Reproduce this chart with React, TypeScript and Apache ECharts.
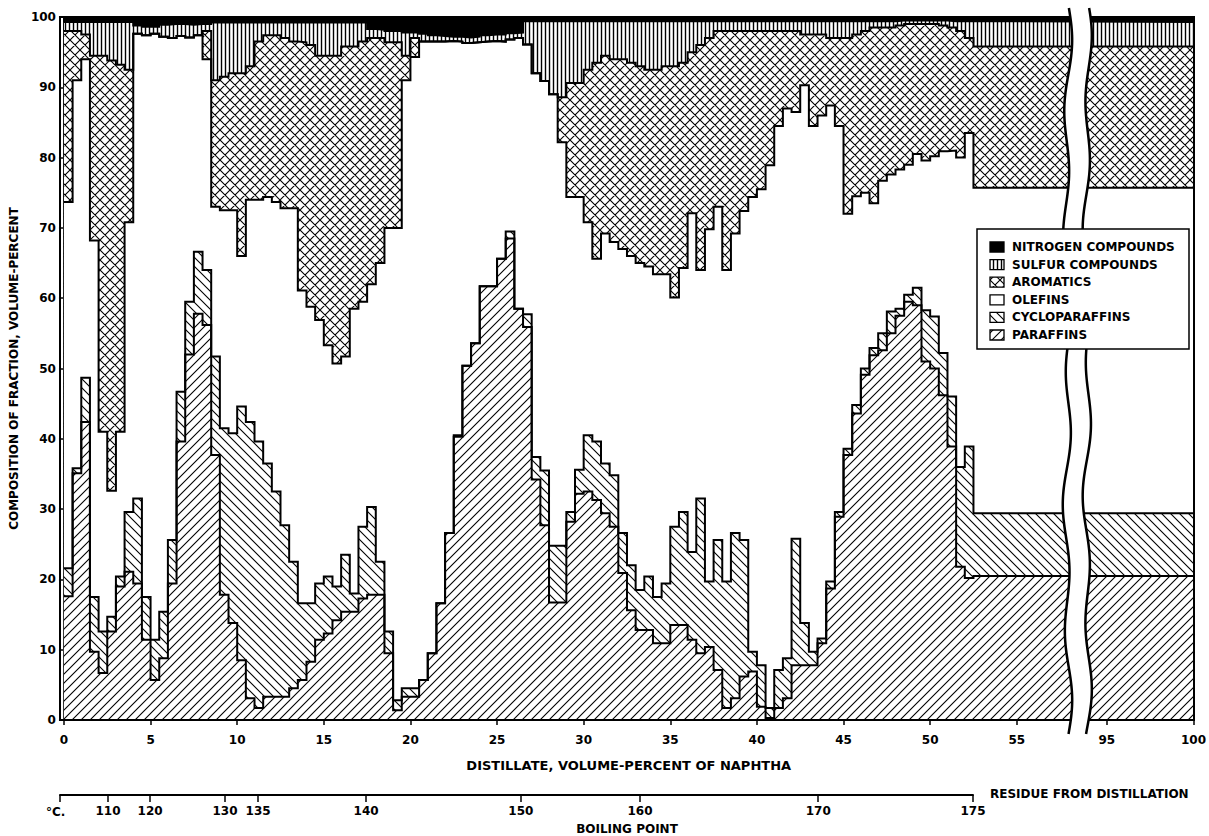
import React, { useEffect, useRef } from 'react';
import * as echarts from 'echarts';

// ---------- data ----------
// each distillation fraction is 0.5 volume-percent of naphtha wide
const FRACTION_WIDTH = 0.5;
const fractionStart: number[] = Array.from({ length: 105 }, (_, i) => i * FRACTION_WIDTH);
const DISTILLATION_END = 52.5;
const BREAK_OFFSET = 34.8; // 95 % distillate is drawn at 60.2 on the plotting scale
const RESIDUE_END = 100 - BREAK_OFFSET;
const BREAK_CENTER = 58.5;

// cumulative upper boundaries (volume-percent) of each component, per fraction
const paraffinsTop = [
  17.6, 35.1, 42.4, 9.7, 6.7, 12.6, 19.0, 21.1, 19.4, 11.4,
  5.7, 8.8, 19.4, 39.6, 52.0, 57.8, 56.2, 37.7, 17.8, 13.8,
  8.5, 3.1, 1.7, 3.3, 3.3, 3.3, 4.5, 5.7, 8.3, 11.4,
  12.3, 14.2, 15.4, 15.4, 17.3, 17.8, 17.8, 9.5, 1.4, 3.3,
  3.3, 5.7, 9.5, 16.6, 26.6, 40.3, 50.4, 53.6, 61.7, 61.7,
  65.6, 68.5, 58.5, 55.9, 34.2, 27.7, 16.7, 16.7, 28.2, 32.2,
  32.5, 31.3, 29.4, 27.5, 20.9, 15.6, 12.8, 12.8, 10.9, 10.9,
  13.5, 13.5, 11.4, 9.5, 10.4, 7.1, 1.7, 3.1, 6.2, 6.9,
  1.9, 0.3, 1.7, 3.1, 7.8, 7.8, 7.8, 10.9, 18.7, 28.9,
  37.7, 43.6, 49.1, 51.9, 52.6, 55.0, 57.5, 59.5, 59.0, 51.0,
  50.0, 46.2, 38.9, 21.8, 20.2,
];
const cycloparaffinsTop = [
  21.6, 35.8, 48.7, 17.5, 12.6, 14.7, 20.4, 29.6, 31.5, 17.5,
  11.4, 15.4, 25.6, 46.7, 59.5, 66.6, 64.0, 51.7, 41.5, 40.8,
  44.6, 42.4, 39.6, 36.5, 32.5, 27.7, 22.5, 16.6, 16.6, 19.4,
  20.4, 19.0, 23.5, 18.0, 27.5, 30.3, 22.5, 12.6, 2.8, 4.5,
  4.5, 5.7, 9.5, 16.6, 26.6, 40.5, 50.4, 53.6, 61.7, 61.7,
  65.6, 69.5, 58.5, 57.7, 37.4, 35.5, 24.8, 24.8, 29.6, 35.6,
  40.5, 39.6, 36.5, 34.8, 26.6, 22.0, 18.5, 20.4, 17.5, 19.4,
  27.5, 29.6, 23.9, 31.5, 19.7, 25.6, 19.7, 26.6, 25.6, 9.7,
  7.8, 1.7, 7.1, 8.8, 25.8, 13.8, 9.7, 11.6, 19.7, 29.6,
  38.6, 44.8, 50.0, 52.9, 55.0, 58.1, 58.5, 60.5, 61.5, 58.3,
  57.4, 52.2, 46.0, 36.0, 38.9,
];
const olefinsTop = [
  73.7, 91.0, 94.0, 68.2, 41.0, 32.6, 41.0, 70.8, 97.6, 97.4,
  97.6, 97.2, 97.0, 97.3, 97.1, 97.4, 94.0, 73.0, 72.5, 72.5,
  66.0, 74.0, 74.0, 74.4, 73.7, 72.8, 72.8, 61.1, 58.8, 56.9,
  53.3, 50.7, 51.7, 58.5, 59.5, 62.0, 65.0, 70.0, 70.0, 91.0,
  94.3, 96.5, 96.5, 96.5, 96.6, 96.5, 96.3, 96.4, 96.5, 96.6,
  96.5, 96.8, 97.0, 96.1, 92.0, 90.9, 89.0, 82.2, 74.4, 74.4,
  70.8, 65.6, 69.2, 68.0, 67.0, 66.0, 65.0, 64.5, 63.4, 63.4,
  60.1, 64.3, 72.1, 64.0, 69.8, 73.0, 64.0, 69.2, 72.4, 74.4,
  75.5, 78.9, 84.5, 87.0, 86.5, 90.3, 84.5, 86.0, 87.4, 84.5,
  72.0, 74.5, 75.0, 73.5, 76.7, 77.6, 78.3, 79.0, 80.5, 79.6,
  80.2, 80.9, 81.0, 80.0, 83.5,
];
const aromaticsTop = [
  98.0, 98.0, 97.5, 94.5, 94.5, 93.8, 93.2, 92.5, 97.6, 97.4,
  97.6, 97.2, 97.0, 97.3, 97.1, 97.4, 98.0, 91.0, 91.5, 92.0,
  92.0, 93.0, 96.5, 97.4, 97.4, 97.0, 96.5, 96.4, 96.0, 94.5,
  94.5, 94.5, 95.8, 95.8, 96.5, 97.0, 97.0, 96.4, 96.4, 94.5,
  97.0, 96.5, 96.5, 96.5, 96.6, 96.5, 96.3, 96.4, 96.5, 96.6,
  96.5, 96.8, 97.0, 96.1, 92.0, 90.9, 89.0, 88.6, 90.6, 90.6,
  92.5, 93.5, 94.5, 94.0, 94.0, 93.5, 93.0, 92.5, 92.5, 93.0,
  93.0, 93.5, 95.0, 96.0, 97.0, 98.0, 98.0, 98.0, 98.0, 98.0,
  98.0, 98.0, 98.0, 98.0, 98.0, 97.5, 97.5, 97.5, 97.0, 97.0,
  97.0, 97.5, 98.0, 98.5, 98.5, 98.5, 98.8, 99.0, 99.0, 99.0,
  99.0, 98.8, 98.5, 98.0, 97.0,
];
const sulfurTop = [
  99.3, 99.3, 99.3, 99.3, 99.3, 99.3, 99.3, 99.3, 98.8, 98.6,
  98.6, 98.9, 99.0, 99.0, 98.9, 99.0, 99.0, 99.2, 99.2, 99.2,
  99.2, 99.2, 99.2, 99.2, 99.2, 99.2, 99.2, 99.2, 99.2, 99.2,
  99.2, 99.2, 99.2, 99.2, 99.2, 98.3, 98.2, 98.0, 98.0, 97.8,
  97.8, 97.6, 97.4, 97.3, 97.2, 97.2, 97.1, 97.2, 97.4, 97.5,
  97.5, 97.7, 97.8, 99.4, 99.4, 99.4, 99.4, 99.4, 99.4, 99.4,
  99.4, 99.4, 99.4, 99.4, 99.4, 99.4, 99.4, 99.4, 99.4, 99.4,
  99.4, 99.4, 99.4, 99.4, 99.4, 99.4, 99.4, 99.4, 99.4, 99.4,
  99.4, 99.4, 99.4, 99.4, 99.4, 99.4, 99.4, 99.4, 99.4, 99.4,
  99.4, 99.4, 99.4, 99.4, 99.4, 99.4, 99.5, 99.5, 99.5, 99.5,
  99.5, 99.5, 99.4, 99.4, 99.4,
];
// residue from distillation (52.5 – 100 %)
const residueTops = { paraffins: 20.5, cycloparaffins: 29.4, olefins: 75.7, aromatics: 95.8, sulfur: 99.3 };

// axis labels
const distillateTicks = [0, 5, 10, 15, 20, 25, 30, 35, 40, 45, 50, 55, 95, 100];
const boilingPointC = [110, 120, 130, 135, 140, 150, 160, 170, 175];
const boilingPointAt = [2.76, 5.18, 9.49, 11.39, 17.6, 26.5, 33.35, 43.6, 52.5];

const legendItems = [
  { name: 'NITROGEN COMPOUNDS', fill: 'black' },
  { name: 'SULFUR COMPOUNDS', fill: 'vertical' },
  { name: 'AROMATICS', fill: 'cross' },
  { name: 'OLEFINS', fill: 'white' },
  { name: 'CYCLOPARAFFINS', fill: 'back' },
  { name: 'PARAFFINS', fill: 'fwd' },
];

// ---------- helpers ----------
const toPlot = (d: number) => (d > 57.5 ? d - BREAK_OFFSET : d);
const fromPlot = (p: number) => Math.round(p > 57.5 ? p + BREAK_OFFSET : p);

function hatch(kind: string): any {
  if (kind === 'black') return '#000';
  if (kind === 'white') return '#fff';
  const size = kind === 'vertical' ? 4 : kind === 'cross' ? 10 : 9;
  const c = document.createElement('canvas');
  c.width = size;
  c.height = size;
  const g = c.getContext('2d')!;
  g.fillStyle = '#fff';
  g.fillRect(0, 0, size, size);
  g.strokeStyle = '#000';
  g.lineWidth = kind === 'vertical' ? 1.4 : 1.1;
  g.beginPath();
  if (kind === 'vertical') {
    g.moveTo(1.5, 0);
    g.lineTo(1.5, size);
  }
  if (kind === 'fwd' || kind === 'cross') {
    g.moveTo(-1, size + 1); g.lineTo(size + 1, -1);
    g.moveTo(-1, 1); g.lineTo(1, -1);
    g.moveTo(size - 1, size + 1); g.lineTo(size + 1, size - 1);
  }
  if (kind === 'back' || kind === 'cross') {
    g.moveTo(-1, -1); g.lineTo(size + 1, size + 1);
    g.moveTo(-1, size - 1); g.lineTo(1, size + 1);
    g.moveTo(size - 1, -1); g.lineTo(size + 1, 1);
  }
  g.stroke();
  return { image: c.toDataURL(), repeat: 'repeat', imageWidth: size, imageHeight: size };
}

const xs = [...fractionStart, DISTILLATION_END, RESIDUE_END];
const stepData = (tops: number[], residue: number) => xs.map((x, i) => [x, i < tops.length ? tops[i] : residue]);

const FONT = "'DejaVu Sans', 'Noto Sans', sans-serif";

export default function App() {
  const ref = useRef<HTMLDivElement>(null);
  useEffect(() => {
    if (!ref.current) return;
    const chart = echarts.init(ref.current, null, { renderer: 'svg' });
    const fills: Record<string, any> = {
      black: hatch('black'), white: hatch('white'), vertical: hatch('vertical'),
      cross: hatch('cross'), back: hatch('back'), fwd: hatch('fwd'),
    };
    const line = (name: string, tops: number[], residue: number, fill: any, showLine = true) => ({
      name,
      type: 'line',
      step: 'end',
      symbol: 'none',
      silent: true,
      data: stepData(tops, residue),
      lineStyle: showLine ? { color: '#000', width: 2, join: 'miter' } : { width: 0, opacity: 0 },
      areaStyle: { color: fill, opacity: 1, origin: 'start' },
    });
    const ones = fractionStart.map(() => 100);
    const tickPos = distillateTicks.map(toPlot);
    const labelStyle = { color: '#000', fontSize: 12, fontWeight: 'bold' as const, fontFamily: FONT };

    const legendY0 = 247;
    const legendGap = 17.6;
    const legendGraphics: any[] = [
      { type: 'rect', z: 60, shape: { x: 977, y: 229, width: 212, height: 120 }, style: { fill: '#fff', stroke: '#000', lineWidth: 1.5 } },
    ];
    legendItems.forEach((it, k) => {
      const y = legendY0 + k * legendGap;
      legendGraphics.push({ type: 'rect', z: 61, shape: { x: 990, y: y - 5, width: 14, height: 10 }, style: { fill: fills[it.fill], stroke: '#000', lineWidth: 1.3 } });
      legendGraphics.push({ type: 'text', z: 61, x: 1012, y, style: { text: it.name, fill: '#000', font: `bold 12px ${FONT}`, verticalAlign: 'middle', align: 'left' } });
    });

    chart.setOption({
      animation: false,
      backgroundColor: '#fff',
      textStyle: { fontFamily: FONT, color: '#000' },
      grid: [
        { left: 60, top: 17, width: 1134, height: 703, show: false },
        { left: 60, top: 790, width: 913, height: 5, show: false },
      ],
      xAxis: [
        {
          type: 'value', gridIndex: 0, min: 0, max: RESIDUE_END,
          axisLine: { show: true, lineStyle: { color: '#000', width: 2 } },
          axisTick: { show: true, customValues: tickPos, length: 5, lineStyle: { color: '#000', width: 1.5 } },
          axisLabel: { customValues: tickPos, formatter: (v: number) => String(fromPlot(v)), margin: 14, ...labelStyle },
          splitLine: { show: false },
          name: 'DISTILLATE, VOLUME-PERCENT OF NAPHTHA', nameLocation: 'middle', nameGap: 39,
          nameTextStyle: { ...labelStyle, fontSize: 13 },
        },
        {
          type: 'value', gridIndex: 1, min: 0, max: DISTILLATION_END, position: 'bottom',
          axisLine: { show: true, lineStyle: { color: '#000', width: 2 } },
          axisTick: { show: true, customValues: [0, ...boilingPointAt], length: 7, lineStyle: { color: '#000', width: 1.5 } },
          axisLabel: {
            customValues: boilingPointAt, margin: 10, ...labelStyle,
            formatter: (v: number) => {
              let best = 0;
              boilingPointAt.forEach((p, i) => { if (Math.abs(p - v) < Math.abs(boilingPointAt[best] - v)) best = i; });
              return String(boilingPointC[best]);
            },
          },
          splitLine: { show: false },
        },
      ],
      yAxis: [
        {
          type: 'value', gridIndex: 0, min: 0, max: 100, interval: 10,
          axisLine: { show: true, lineStyle: { color: '#000', width: 2 } },
          axisTick: { show: true, length: 5, lineStyle: { color: '#000', width: 1.5 } },
          axisLabel: { margin: 8, ...labelStyle },
          splitLine: { show: false },
          name: 'COMPOSITION OF FRACTION, VOLUME-PERCENT', nameLocation: 'middle', nameGap: 30, nameRotate: 90,
          nameTextStyle: { ...labelStyle, fontSize: 12 },
        },
        { type: 'value', gridIndex: 1, show: false, min: 0, max: 1 },
      ],
      series: [
        line('Nitrogen compounds', ones, 100, fills.black, false),
        line('Sulfur compounds', sulfurTop, residueTops.sulfur, fills.vertical),
        line('Aromatics', aromaticsTop, residueTops.aromatics, fills.cross),
        line('Olefins', olefinsTop, residueTops.olefins, fills.white),
        line('Cycloparaffins', cycloparaffinsTop, residueTops.cycloparaffins, fills.back),
        line('Paraffins', paraffinsTop, residueTops.paraffins, fills.fwd),
        {
          type: 'custom', name: 'break', xAxisIndex: 0, yAxisIndex: 0, clip: false, silent: true, z: 20,
          data: [[BREAK_CENTER, 0]],
          renderItem: (_params: any, api: any) => {
            const top = api.coord([api.value(0), 100]);
            const bot = api.coord([api.value(0), 0]);
            const cx = top[0];
            const y0 = top[1] - 9;
            const y1 = bot[1] + 15;
            const left: number[][] = [];
            const right: number[][] = [];
            for (let y = y0; y <= y1 + 0.1; y += 3) {
              const t = y - y0;
              const wl = 3.2 * Math.sin(t / 21) + 1.6 * Math.sin(t / 53 + 1.2);
              const wr = 3.2 * Math.sin(t / 21 + 0.4) + 1.6 * Math.sin(t / 47 + 0.3);
              left.push([cx - 10 + wl, y]);
              right.push([cx + 10 + wr, y]);
            }
            const poly = [...left, ...right.slice().reverse()];
            return {
              type: 'group',
              children: [
                { type: 'polygon', shape: { points: poly }, style: { fill: '#fff', stroke: null } },
                { type: 'polyline', shape: { points: left }, style: { stroke: '#000', lineWidth: 2.5, fill: null } },
                { type: 'polyline', shape: { points: right }, style: { stroke: '#000', lineWidth: 2.5, fill: null } },
              ],
            };
          },
        },
      ],
      graphic: [
        { type: 'rect', z: 10, silent: true, shape: { x: 60, y: 17, width: 1134, height: 703 }, style: { fill: null, stroke: '#000', lineWidth: 2 } },
        ...legendGraphics,
        { type: 'text', z: 61, x: 46, y: 812, style: { text: '°C.', fill: '#000', font: `bold 12px ${FONT}`, verticalAlign: 'middle', align: 'left' } },
        { type: 'text', z: 61, x: 627, y: 829, style: { text: 'BOILING POINT', fill: '#000', font: `bold 12px ${FONT}`, verticalAlign: 'middle', align: 'center' } },
        { type: 'text', z: 61, x: 990, y: 794, style: { text: 'RESIDUE FROM DISTILLATION', fill: '#000', font: `bold 12px ${FONT}`, verticalAlign: 'middle', align: 'left' } },
      ],
    });
    return () => chart.dispose();
  }, []);
  return (
    <div
      ref={ref}
      style={{ position: 'absolute', left: 0, top: 0, width: 1209, height: 836, background: '#fff' }}
    />
  );
}
